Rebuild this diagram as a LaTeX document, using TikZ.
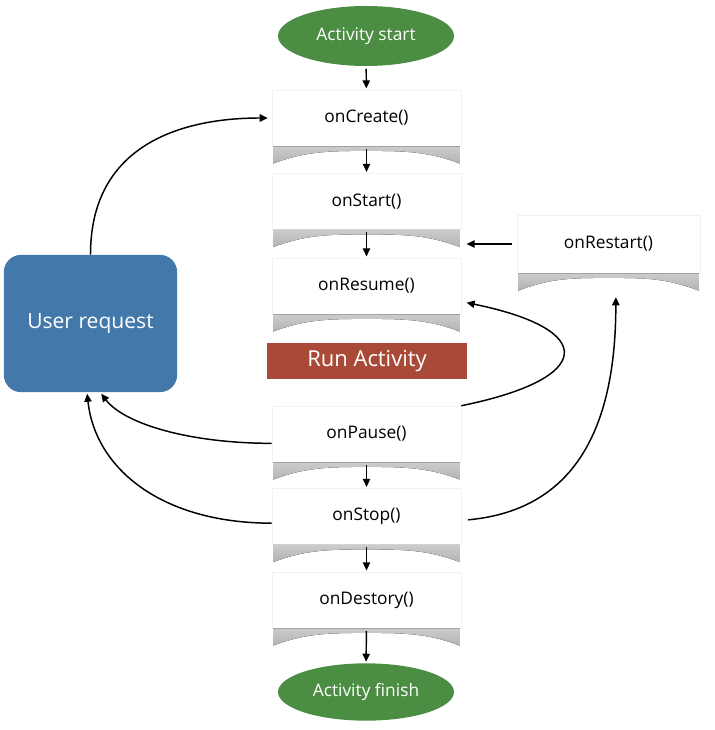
\documentclass[tikz,border=0pt]{standalone}
\usepackage{fontspec}
\setmainfont{Open Sans}
\usetikzlibrary{arrows.meta,shapes.geometric}
\definecolor{startgreen}{RGB}{76,141,68}
\definecolor{userblue}{RGB}{66,121,170}
\definecolor{runred}{RGB}{168,74,55}
\begin{document}
\begin{tikzpicture}[x=0.75pt,y=-0.75pt,
    every node/.style={font=\fontsize{13}{15}\selectfont},
    call/.style={rectangle,fill=white,draw=gray!10,minimum width=141.75pt,minimum height=42pt,inner sep=0pt},
    terminal/.style={ellipse,fill=startgreen,text=white,minimum width=132pt,minimum height=45pt,inner sep=0pt,
      font=\fontsize{13}{15}\selectfont},
    curl/.style={top color=gray!40,bottom color=gray!60},
    flow/.style={-{Triangle[length=6pt,width=5.5pt]},line width=1.1pt}]
  \useasboundingbox (0,0) rectangle (714,730);
  \draw
    (366,36) node[terminal] (begin){Activity start}
    (366.5,118) node[call] (create){onCreate()}
    (366.5,201.5) node[call] (start){onStart()}
    (366.5,286) node[call] (resume){onResume()}
    (367,361) node[rectangle,fill=runred,text=white,minimum width=150pt,minimum height=27pt,
      font=\fontsize{16.5}{18}\selectfont] (run){Run Activity}
    (366.5,434) node[call] (pause){onPause()}
    (366.5,516.5) node[call] (stop){onStop()}
    (366.5,600) node[call] (destroy){onDestory()}
    (366,692) node[terminal,minimum height=43pt] (finish){Activity finish}
    (608.5,244) node[call,minimum width=137pt,minimum height=43.5pt] (restart){onRestart()}
    (90.5,323.5) node[rectangle,rounded corners=13pt,fill=userblue,text=white,minimum width=130pt,minimum height=103pt,
      font=\fontsize{15.8}{18}\selectfont] (user){User request};
  \foreach \n in {create,start,resume,pause,stop,destroy,restart}
    \fill[curl] ([xshift=1pt]\n.south west) -- ([xshift=1pt,yshift=-13pt]\n.south west)
      .. controls ([xshift=25pt,yshift=-4pt]\n.south west) and ([xshift=-30pt,yshift=-3.5pt]\n.south) .. ([yshift=-3.5pt]\n.south)
      .. controls ([xshift=30pt,yshift=-3.5pt]\n.south) and ([xshift=-25pt,yshift=-4pt]\n.south east) .. ([xshift=-1pt,yshift=-13pt]\n.south east)
      -- ([xshift=-1pt]\n.south east) -- cycle;
  \begin{scope}[flow]
    \draw[shorten <=2pt,shorten >=1pt] (begin) -- (create);
    \draw[shorten <=2pt,shorten >=1pt] (create) -- (start);
    \draw[shorten <=2pt,shorten >=1pt] (start) -- (resume);
    \draw[shorten <=2pt,shorten >=1pt] (pause) -- (stop);
    \draw[shorten <=2pt,shorten >=1pt] (stop) -- (destroy);
    \draw[shorten <=2pt,shorten >=1pt] (destroy) -- (finish);
    \draw[shorten <=4pt,shorten >=4pt] (restart.west) -- (restart.west -| start.east);
    \draw[shorten >=3pt] (user.north) .. controls +(0,-110) and +(-90,0) .. (create.west);
    \draw (pause.north east) .. controls +(133,-27) and +(132,27) .. ([xshift=4pt,yshift=-12.5pt]resume.east);
    \draw ([xshift=5pt,yshift=-2.5pt]stop.east) .. controls +(112,-10) and +(0,123) .. ([xshift=5.5pt,yshift=-18pt]restart.south);
    \draw ([yshift=-7pt]pause.west) .. controls +(-80,0) and +(24,31) .. ([xshift=8pt,yshift=-1pt]user.south);
    \draw ([yshift=-5pt]stop.west) .. controls +(-110,0) and +(8,75) .. ([xshift=-2.5pt,yshift=-1pt]user.south);
  \end{scope}
\end{tikzpicture}
\end{document}
